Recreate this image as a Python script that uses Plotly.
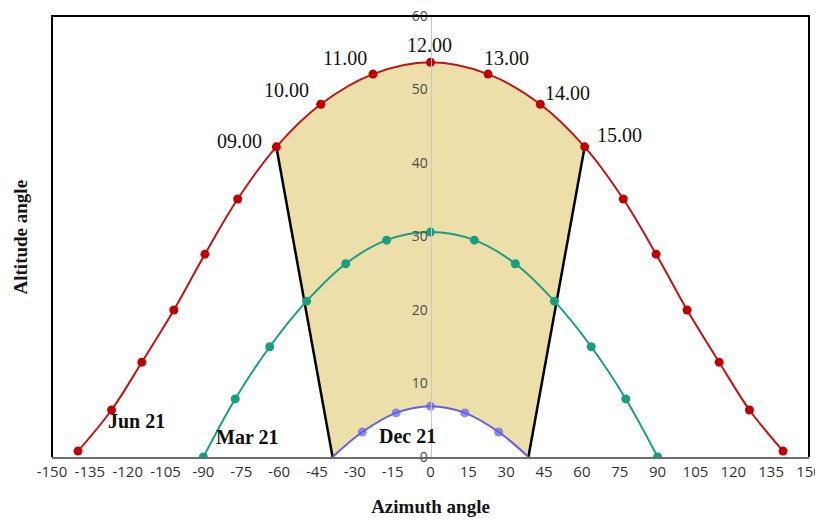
import plotly.graph_objects as go

# ---- data ----
jun_az = [-139.7, -126.4, -114.4, -101.7, -89.4, -76.4, -61.1, -43.5, -22.8, 0,
          22.8, 43.5, 61.1, 76.4, 89.4, 101.7, 114.4, 126.4, 139.7]
jun_alt = [0.8, 6.4, 12.9, 20.0, 27.6, 35.1, 42.2, 48.0, 52.1, 53.7,
           52.1, 48.0, 42.2, 35.1, 27.6, 20.0, 12.9, 6.4, 0.8]

mar_az = [-90, -77.4, -63.7, -49.1, -33.6, -17.4, 0, 17.4, 33.6, 49.1, 63.7, 77.4, 90]
mar_alt = [0, 7.9, 15.0, 21.2, 26.3, 29.5, 30.6, 29.5, 26.3, 21.2, 15.0, 7.9, 0]

dec_az = [-38.8, -27.0, -13.6, 0, 13.6, 27.0, 38.8]
dec_alt = [0, 3.4, 6.0, 6.9, 6.0, 3.4, 0]
dec_marked = [False, True, True, True, True, True, False]

hour_labels = ["09.00", "10.00", "11.00", "12.00", "13.00", "14.00", "15.00"]
first_hour_idx = 6   # index of 09.00 in jun arrays
last_hour_idx = 12   # index of 15.00 in jun arrays

season_labels = ["Jun 21", "Mar 21", "Dec 21"]
season_az = [-116.7, -72.6, -9.3]
season_alt = [4.9, 2.7, 2.8]

x_ticks = list(range(-150, 151, 15))
y_ticks = list(range(0, 61, 10))

# ---- styles ----
RED = "rgb(192,20,20)"
TEAL = "rgb(25,158,128)"
BLUE = "rgb(96,96,232)"
FILL = "rgb(237,223,170)"
SERIF = "Liberation Serif"
SANS = "Open Sans"

label_pos = [  # xanchor, xshift, yshift per hour label
    ("right", -12, 6), ("right", -10, 14), ("right", -4, 16), ("center", -1, 17),
    ("left", -6, 16), ("left", 3, 11), ("left", 10, 12),
]

fig = go.Figure()

# beige region: between June 09-15 arc and December curve
fig.add_trace(go.Scatter(
    x=jun_az[first_hour_idx:last_hour_idx + 1], y=jun_alt[first_hour_idx:last_hour_idx + 1],
    mode="lines", line=dict(width=0, shape="spline"), hoverinfo="skip", showlegend=False))
fig.add_trace(go.Scatter(
    x=dec_az, y=dec_alt, mode="lines", line=dict(width=0, shape="spline"),
    fill="tonexty", fillcolor=FILL, hoverinfo="skip", showlegend=False))

# black boundary lines
for ji, di in [(first_hour_idx, 0), (last_hour_idx, len(dec_az) - 1)]:
    fig.add_trace(go.Scatter(
        x=[jun_az[ji], dec_az[di]], y=[jun_alt[ji], dec_alt[di]],
        mode="lines", line=dict(color="black", width=2.5), hoverinfo="skip", showlegend=False))

# curves
fig.add_trace(go.Scatter(x=jun_az, y=jun_alt, mode="lines+markers",
                         line=dict(color=RED, width=2, shape="spline"),
                         marker=dict(color="rgb(190,0,0)", size=9), showlegend=False))
fig.add_trace(go.Scatter(x=mar_az, y=mar_alt, mode="lines+markers",
                         line=dict(color=TEAL, width=2, shape="spline"),
                         marker=dict(color=TEAL, size=9), showlegend=False))
fig.add_trace(go.Scatter(x=dec_az, y=dec_alt, mode="lines+markers",
                         line=dict(color=BLUE, width=2, shape="spline"),
                         marker=dict(color=BLUE, size=[9 if m else 0 for m in dec_marked],
                                     line=dict(width=0)),
                         showlegend=False))

# hour labels
for k, txt in enumerate(hour_labels):
    i = first_hour_idx + k
    xa, xs, ys = label_pos[k]
    fig.add_annotation(x=jun_az[i], y=jun_alt[i], text=txt, showarrow=False,
                       xanchor=xa, yanchor="middle", xshift=xs, yshift=ys,
                       font=dict(family=SERIF, size=20, color="rgb(20,20,20)"))

# season labels
for txt, ax, al in zip(season_labels, season_az, season_alt):
    fig.add_annotation(x=ax, y=al, text="<b>" + txt + "</b>", showarrow=False,
                       xanchor="center", yanchor="middle",
                       font=dict(family=SERIF, size=20, color="rgb(15,15,15)"))

# frame (left, top, right)
fig.add_shape(type="path", xref="paper", yref="paper",
              path="M 0 0 L 0 1 L 1 1 L 1 0", line=dict(color="black", width=2))

fig.update_layout(
    width=815, height=512,
    margin=dict(l=44, r=14, t=8, b=63, autoexpand=False),
    paper_bgcolor="white", plot_bgcolor="white",
    xaxis=dict(range=[-150, 150], tickvals=x_ticks, ticktext=[str(v) for v in x_ticks],
               showgrid=False, zeroline=False, showline=True, linecolor="rgb(110,110,110)",
               linewidth=2, ticks="", automargin=False, ticklabeloverflow="allow",
               tickfont=dict(family=SANS, size=15, color="rgb(50,50,50)"),
               title=dict(text="<b>Azimuth angle</b>", standoff=20,
                          font=dict(family=SERIF, size=19, color="rgb(20,20,20)"))),
    yaxis=dict(range=[0, 60], tickvals=y_ticks, anchor="free", position=0.5,
               showgrid=False, zeroline=False, showline=True, linecolor="rgb(200,200,200)",
               linewidth=1, ticks="", automargin=False, ticklabeloverflow="allow",
               tickfont=dict(family=SANS, size=14, color="rgb(75,75,75)")),
)
fig.add_annotation(xref="paper", yref="paper", x=-0.041, y=0.5,
                   text="<b>Altitude angle</b>", textangle=-90, showarrow=False,
                   xanchor="center", yanchor="middle",
                   font=dict(family=SERIF, size=19, color="rgb(20,20,20)"))

fig.write_html("out.html")
